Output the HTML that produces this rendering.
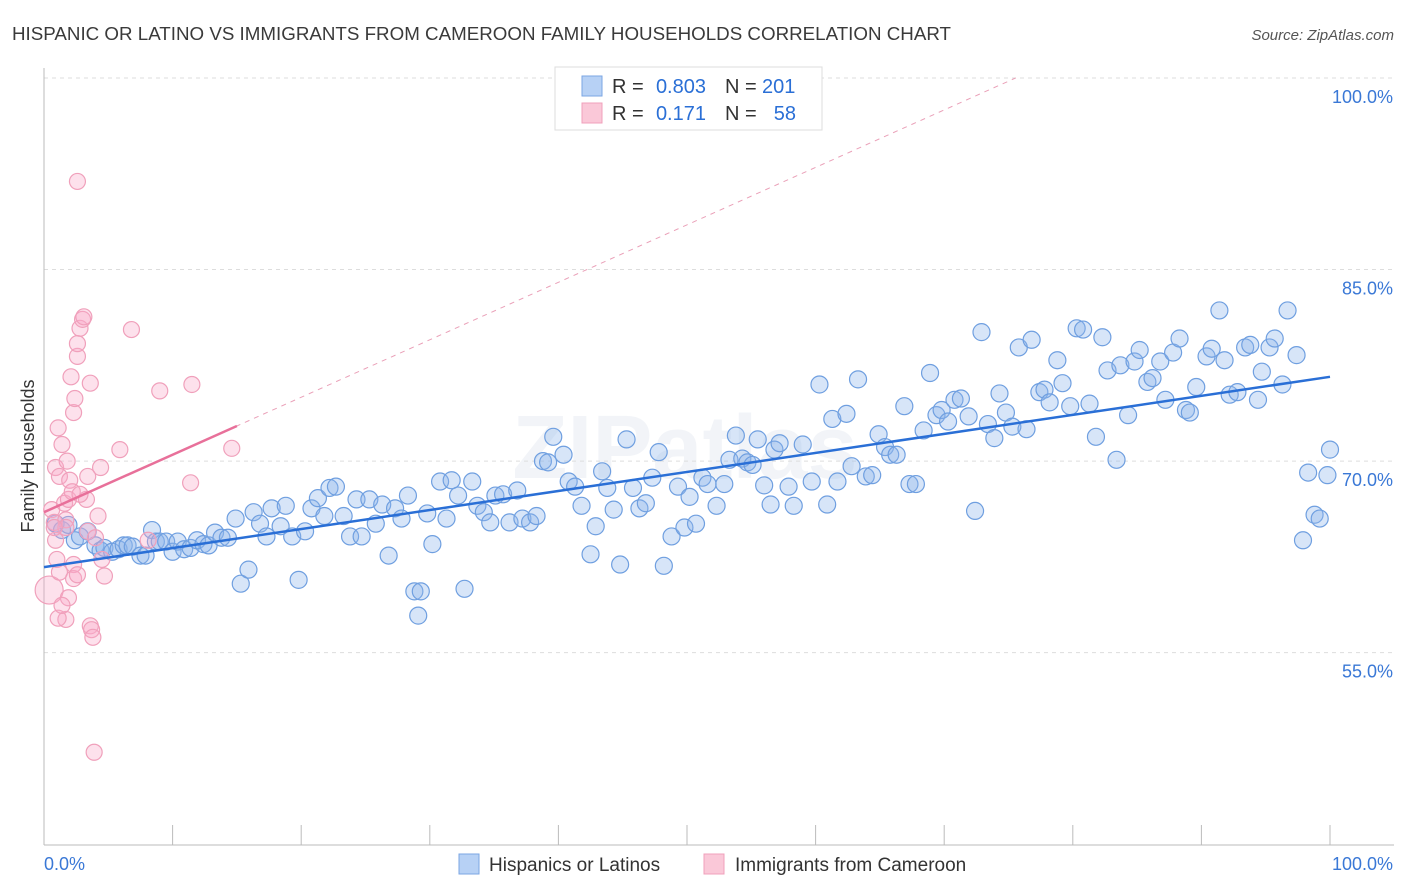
<!DOCTYPE html>
<html><head><meta charset="utf-8"><style>
body{margin:0;background:#fff;font-family:"Liberation Sans",sans-serif;}
#wrap{position:relative;width:1406px;height:892px;overflow:hidden;}
</style></head><body>
<div id="wrap">
<svg id="chart" width="1406" height="892" style="position:absolute;left:0;top:0">
<text x="12" y="40" font-size="18.5" fill="#3a3a3a" textLength="939" lengthAdjust="spacingAndGlyphs">HISPANIC OR LATINO VS IMMIGRANTS FROM CAMEROON FAMILY HOUSEHOLDS CORRELATION CHART</text>
<text x="1394" y="40" font-size="15" fill="#555" font-style="italic" text-anchor="end">Source: ZipAtlas.com</text>
<text x="685" y="478" font-size="90" fill="#e6ebf2" text-anchor="middle" font-weight="bold" opacity="0.5">ZIPatlas</text>
<text transform="translate(34,456) rotate(-90)" font-size="18" fill="#333" text-anchor="middle">Family Households</text>
<g id="grid"></g><g id="axes"></g><g id="marks"></g><g id="lines"></g>
<g>
<rect x="555" y="67" width="267" height="63" fill="#fff" stroke="#ddd"/>
<rect x="582" y="76" width="20" height="20" fill="#b7d1f5" stroke="#7ba6e3"/>
<rect x="582" y="103" width="20" height="20" fill="#fac8d8" stroke="#f0a0bb"/>
<text x="612" y="93" font-size="20" fill="#333">R =</text>
<text x="706" y="93" font-size="20" fill="#2a6fd6" text-anchor="end">0.803</text>
<text x="725" y="93" font-size="20" fill="#333">N =</text>
<text x="762" y="93" font-size="20" fill="#2a6fd6">201</text>
<text x="612" y="120" font-size="20" fill="#333">R =</text>
<text x="706" y="120" font-size="20" fill="#2a6fd6" text-anchor="end">0.171</text>
<text x="725" y="120" font-size="20" fill="#333">N =</text>
<text x="796" y="120" font-size="20" fill="#2a6fd6" text-anchor="end">58</text>
</g>
<g>
<rect x="459" y="854" width="20" height="20" fill="#b7d1f5" stroke="#7ba6e3"/>
<text x="489" y="871" font-size="19" fill="#333">Hispanics or Latinos</text>
<rect x="704" y="854" width="20" height="20" fill="#fac8d8" stroke="#f0a0bb"/>
<text x="735" y="871" font-size="19" fill="#333">Immigrants from Cameroon</text>
</g>
</svg>
</div>
<script>
const blueX=[0.9,1.4,1.9,2.4,2.8,3.4,4.0,4.4,4.7,5.3,5.8,6.2,6.5,6.9,7.5,7.9,8.4,8.7,9.0,9.5,10.0,10.4,10.9,11.4,11.9,12.4,12.8,13.3,13.8,14.3,14.9,15.3,15.9,16.3,16.8,17.3,17.7,18.4,18.8,19.3,19.8,20.3,20.8,21.3,21.8,22.2,22.7,23.3,23.8,24.3,24.7,25.3,25.8,26.3,26.8,27.3,27.8,28.3,28.8,29.1,29.3,29.8,30.2,30.8,31.3,31.7,32.2,32.7,33.3,33.7,34.2,34.7,35.1,35.7,36.2,36.8,37.2,37.8,38.3,38.8,39.2,39.6,40.4,40.8,41.3,41.8,42.5,42.9,43.4,43.8,44.3,44.8,45.3,45.8,46.3,46.8,47.3,47.8,48.2,48.8,49.3,49.8,50.2,50.7,51.2,51.6,52.3,52.9,53.3,53.8,54.3,54.7,55.1,55.5,56.0,56.5,56.8,57.2,57.9,58.3,59.0,59.7,60.3,60.9,61.3,61.7,62.4,62.8,63.3,63.9,64.4,64.9,65.4,65.8,66.3,66.9,67.3,67.8,68.4,68.9,69.4,69.8,70.3,70.8,71.3,71.9,72.4,72.9,73.4,73.9,74.3,74.8,75.3,75.8,76.4,76.8,77.4,77.8,78.2,78.8,79.2,79.8,80.3,80.8,81.3,81.8,82.3,82.7,83.4,83.7,84.3,84.8,85.2,85.8,86.2,86.8,87.2,87.8,88.3,88.8,89.1,89.6,90.4,90.8,91.4,91.8,92.2,92.8,93.4,93.8,94.4,94.7,95.3,95.7,96.3,96.7,97.4,97.9,98.3,98.8,99.2,99.8,100.0];
const blueY=[65.1,64.6,65.0,63.8,64.1,64.5,63.4,63.0,63.2,62.9,63.1,63.4,63.4,63.3,62.6,62.6,64.6,63.7,63.7,63.7,62.9,63.7,63.1,63.2,63.8,63.5,63.4,64.4,64.0,64.0,65.5,60.4,61.5,66.0,65.1,64.1,66.3,64.9,66.5,64.1,60.7,64.5,66.3,67.1,65.7,67.9,68.0,65.7,64.1,67.0,64.1,67.0,65.1,66.6,62.6,66.3,65.5,67.3,59.8,57.9,59.8,65.9,63.5,68.4,65.5,68.5,67.3,60.0,68.4,66.5,66.0,65.2,67.3,67.4,65.2,67.7,65.5,65.2,65.7,70.0,69.9,71.9,70.5,68.4,68.0,66.5,62.7,64.9,69.2,67.9,66.2,61.9,71.7,67.9,66.3,66.7,68.7,70.7,61.8,64.1,68.0,64.8,67.2,65.1,68.7,68.2,66.5,68.2,70.1,72.0,70.2,69.9,69.7,71.7,68.1,66.6,70.9,71.4,68.0,66.5,71.3,68.4,76.0,66.6,73.3,68.4,73.7,69.6,76.4,68.8,68.9,72.1,71.1,70.5,70.5,74.3,68.2,68.2,72.4,76.9,73.6,74.0,73.1,74.8,74.9,73.5,66.1,80.1,72.9,71.8,75.3,73.8,72.7,78.9,72.5,79.5,75.4,75.6,74.6,77.9,76.1,74.3,80.4,80.3,74.5,71.9,79.7,77.1,70.1,77.5,73.6,77.8,78.7,76.2,76.5,77.8,74.8,78.5,79.6,74.0,73.8,75.8,78.2,78.8,81.8,77.9,75.2,75.4,78.9,79.1,74.8,77.0,78.9,79.6,76.0,81.8,78.3,63.8,69.1,65.8,65.5,68.9,70.9];
const pinkX=[0.4,0.6,0.8,0.9,1.0,1.2,0.9,1.1,1.2,1.4,1.6,1.7,1.8,1.9,2.0,2.1,2.2,2.3,2.3,2.3,2.4,2.6,2.6,2.6,2.6,2.8,3.0,3.1,3.3,3.4,3.4,3.6,3.6,3.7,3.8,3.9,4.0,4.2,4.4,4.5,4.7,5.9,6.8,8.1,9.0,11.4,11.5,14.6,1.7,1.9,1.7,1.1,1.4,2.8,0.8];
const pinkY=[59.9,66.2,65.2,63.8,62.3,61.3,69.5,72.6,68.8,71.3,66.7,65.4,70.0,67.0,68.5,76.6,67.6,61.9,60.8,73.8,74.9,78.2,91.9,79.2,61.1,80.4,81.1,81.3,67.0,64.5,68.8,76.1,57.1,56.8,56.2,47.2,64.0,65.7,69.5,62.3,61.0,70.9,80.3,63.8,75.5,68.3,76.0,71.0,64.8,59.3,57.6,57.7,58.7,67.4,64.8];
const blueTrend=[61.7,76.6];
const pinkTrend=[66.0,0.45];
const yTicks=[100,85,70,55];

const NS="http://www.w3.org/2000/svg";
const X0=44,X1=1330,Y100=78,PXPER=12.77;
function sx(v){return X0+(X1-X0)*v/100;}
function sy(v){return Y100+(100-v)*PXPER;}
function mk(tag,attrs,parent){const e=document.createElementNS(NS,tag);for(const k in attrs)e.setAttribute(k,attrs[k]);parent.appendChild(e);return e;}
const grid=document.getElementById('grid'),axes=document.getElementById('axes'),marks=document.getElementById('marks'),lines=document.getElementById('lines');
yTicks.forEach(t=>{
  const l=mk('line',{x1:X0,x2:1394,y1:sy(t),y2:sy(t),stroke:'#ddd','stroke-dasharray':'4,4'},grid);
  
  
  const tx=mk('text',{x:1393,y:sy(t)+25,'font-size':18,fill:'#3a78d6','text-anchor':'end'},grid);
  tx.textContent=t.toFixed(1)+'%';
  
  
});
const ax=mk('line',{x1:X0,x2:1394,y1:845,y2:845,stroke:'#bbb'},axes);


const ay=mk('line',{x1:X0,x2:X0,y1:68,y2:845,stroke:'#bbb'},axes);


for(let i=0;i<=10;i++){
  const t=mk('line',{x1:sx(i*10),x2:sx(i*10),y1:825,y2:845,stroke:'#bbb'},axes);
  
  
}
const xl=mk('text',{x:44,y:870,'font-size':18,fill:'#3a78d6'},axes);xl.textContent='0.0%';


const xr=mk('text',{x:1393,y:870,'font-size':18,fill:'#3a78d6','text-anchor':'end'},axes);xr.textContent='100.0%';


blueX.forEach((v,i)=>{
  const c=mk('circle',{cx:sx(v),cy:sy(blueY[i]),r:8.5,fill:'rgba(140,180,235,0.35)',stroke:'#6f9fe0','stroke-width':1.2},marks);
  
  
});
pinkX.forEach((v,i)=>{
  const c=mk('circle',{cx:sx(v),cy:sy(pinkY[i]),r:i===0?14:8,fill:'rgba(248,170,200,0.35)',stroke:'#f0a0bb','stroke-width':1.2},marks);
  
  
});
const bl=mk('line',{x1:sx(0),y1:sy(blueTrend[0]),x2:sx(100),y2:sy(blueTrend[1]),stroke:'#2a6fd6','stroke-width':2.5},lines);


const xEnd=(100-pinkTrend[0])/pinkTrend[1];
const pd=mk('line',{x1:sx(0),y1:sy(pinkTrend[0]),x2:sx(xEnd),y2:sy(100),stroke:'#eaa0b8','stroke-width':1,'stroke-dasharray':'5,5'},lines);


const pl=mk('line',{x1:sx(0),y1:sy(pinkTrend[0]),x2:sx(15),y2:sy(pinkTrend[0]+15*pinkTrend[1]),stroke:'#e8709a','stroke-width':2.5},lines);


</script>
</body></html>
